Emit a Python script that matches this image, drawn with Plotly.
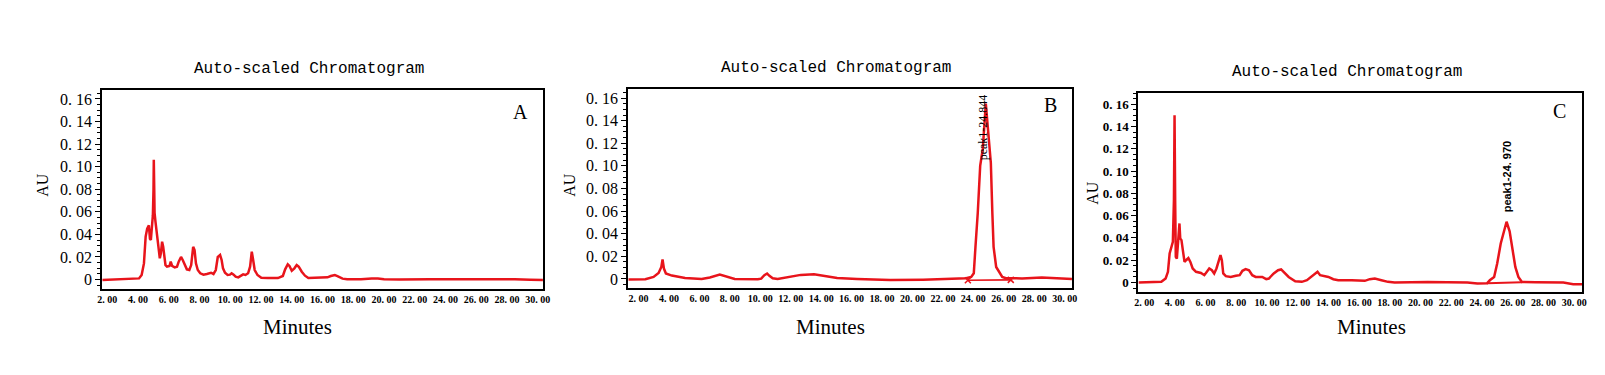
import plotly.graph_objects as go

# ---------------- data ----------------
A_time = [1.68, 2.78, 4.07, 4.24, 4.39, 4.50, 4.60, 4.71, 4.78, 4.84, 4.90, 4.97, 5.01, 5.03, 5.06,
          5.08, 5.14, 5.21, 5.27, 5.36, 5.42, 5.49, 5.57, 5.64, 5.70, 5.79, 5.89, 6.05, 6.13, 6.22,
          6.39, 6.54, 6.65, 6.80, 6.91, 7.03, 7.18, 7.34, 7.46, 7.59, 7.68, 7.77, 7.89, 8.05, 8.26,
          8.48, 8.75, 8.91, 9.06, 9.19, 9.34, 9.44, 9.53, 9.66, 9.83, 9.98, 10.09, 10.22, 10.35, 10.52,
          10.69, 10.84, 10.99, 11.16, 11.29, 11.40, 11.49, 11.59, 11.77, 12.02, 12.45, 13.10, 13.42, 13.57, 13.74,
          13.85, 14.00, 14.17, 14.32, 14.45, 14.65, 14.86, 15.08, 15.68, 16.32, 16.54, 16.80, 16.97, 17.30, 17.60,
          18.50, 19.20, 19.60, 20.00, 21.00, 23.00, 25.00, 27.00, 28.50, 29.50, 30.33]
A_au = [-0.0004, 0.0002, 0.001, 0.004, 0.0143, 0.038, 0.045, 0.048, 0.036, 0.035, 0.044, 0.057, 0.079, 0.106, 0.079,
        0.059, 0.051, 0.044, 0.0335, 0.026, 0.0188, 0.0232, 0.0335, 0.029, 0.020, 0.0128, 0.0114, 0.012, 0.0158, 0.012,
        0.0108, 0.0114, 0.0158, 0.020, 0.0173, 0.0128, 0.009, 0.0084, 0.0128, 0.029, 0.026, 0.0143, 0.0084, 0.0055, 0.0043,
        0.0049, 0.006, 0.0049, 0.0084, 0.020, 0.0217, 0.0173, 0.0099, 0.006, 0.004, 0.0043, 0.0055, 0.0043, 0.0025, 0.0019,
        0.0037, 0.0046, 0.004, 0.0055, 0.0114, 0.0247, 0.0173, 0.0084, 0.004, 0.0016, 0.0013, 0.0013, 0.0031, 0.009, 0.0135,
        0.012, 0.0078, 0.0099, 0.0128, 0.0114, 0.0069, 0.0034, 0.0013, 0.0013, 0.0019, 0.0031, 0.004, 0.0031, 0.0008, 0.0003,
        0.0002, 0.0008, 0.001, 0.0003, 0.0, 0.0002, 0.0003, 0.0004, 0.0002, -0.0003, -0.0005]

B_time = [1.33, 2.45, 2.99, 3.32, 3.50, 3.58, 3.67, 3.80, 4.19, 5.06, 6.15, 6.69, 7.34, 7.67, 8.32,
          9.84, 10.06, 10.27, 10.45, 10.60, 10.82, 11.14, 11.80, 12.66, 13.53, 14.19, 15.05, 16.36, 18.53, 20.70,
          22.44, 23.53, 23.86, 24.03, 24.14, 24.29, 24.45, 24.62, 24.82, 25.00, 25.15, 25.25, 25.33, 25.50, 25.90,
          26.14, 27.20, 28.50, 29.40, 30.48]
B_au = [-0.0005, -0.0002, 0.0018, 0.0053, 0.0106, 0.0172, 0.0092, 0.0048, 0.003, 0.0009, 0.0, 0.0013, 0.0039, 0.0028, 0.0,
        -0.0003, 0.0003, 0.0033, 0.0048, 0.0028, 0.0006, 0.0, 0.0018, 0.0036, 0.0042, 0.0028, 0.0009, 0.0, -0.0009, -0.0006,
        0.0003, 0.0006, 0.0018, 0.005, 0.0284, 0.0583, 0.100, 0.115, 0.155, 0.128, 0.1026, 0.058, 0.0284, 0.0106, 0.0018,
        0.0006, 0.0005, 0.0013, 0.0008, 0.0]
B_base_time = [23.64, 26.46]
B_base_au = [-0.0012, -0.0008]

C_time = [1.63, 3.12, 3.40, 3.55, 3.66, 3.76, 3.87, 3.94, 3.98, 4.02, 4.06, 4.13, 4.19, 4.26, 4.30,
          4.35, 4.43, 4.52, 4.63, 4.73, 4.88, 5.01, 5.16, 5.38, 5.70, 5.92, 6.07, 6.24, 6.41, 6.56,
          6.71, 6.89, 6.97, 7.06, 7.15, 7.32, 7.64, 7.97, 8.22, 8.40, 8.61, 8.83, 9.04, 9.26, 9.69,
          9.95, 10.12, 10.44, 10.72, 10.92, 11.09, 11.41, 11.84, 12.27, 12.60, 12.92, 13.14, 13.29, 13.46, 13.78,
          14.00, 14.32, 14.64, 15.51, 15.94, 16.37, 16.69, 17.02, 17.45, 17.88, 18.31, 20.46, 23.05, 23.70, 24.34,
          24.51, 24.79, 24.99, 25.22, 25.40, 25.60, 25.80, 25.98, 26.17, 26.37, 26.60, 27.50, 29.30, 29.94, 30.52]
C_au = [0.0, 0.0006, 0.0036, 0.0096, 0.026, 0.032, 0.0365, 0.074, 0.150, 0.074, 0.023, 0.0215, 0.035, 0.044, 0.053,
        0.0396, 0.038, 0.029, 0.0185, 0.020, 0.022, 0.0185, 0.0126, 0.0096, 0.0086, 0.0066, 0.0096, 0.0126, 0.011, 0.0081,
        0.0126, 0.020, 0.0246, 0.020, 0.0081, 0.0057, 0.005, 0.006, 0.0066, 0.0105, 0.012, 0.011, 0.0066, 0.005, 0.005,
        0.003, 0.0036, 0.0081, 0.011, 0.0117, 0.0096, 0.005, 0.0012, 0.0006, 0.0021, 0.0057, 0.0086, 0.0096, 0.0066, 0.006,
        0.005, 0.003, 0.0021, 0.0021, 0.0015, 0.0015, 0.003, 0.0036, 0.0021, 0.0006, 0.0, 0.0005, 0.0, -0.0009, -0.0006,
        0.002, 0.005, 0.017, 0.035, 0.045, 0.0545, 0.046, 0.029, 0.014, 0.005, 0.0005, 0.0003, 0.0, -0.0015, -0.0015]
C_base_time = [24.34, 26.60]
C_base_au = [-0.0006, 0.0003]

x_tickvals = [2, 4, 6, 8, 10, 12, 14, 16, 18, 20, 22, 24, 26, 28, 30]
x_ticktext = ["2. 00", "4. 00", "6. 00", "8. 00", "10. 00", "12. 00", "14. 00", "16. 00",
              "18. 00", "20. 00", "22. 00", "24. 00", "26. 00", "28. 00", "30. 00"]
y_tickvals = [0, 0.02, 0.04, 0.06, 0.08, 0.10, 0.12, 0.14, 0.16]
y_ticktext = ["0", "0. 02", "0. 04", "0. 06", "0. 08", "0. 10", "0. 12", "0. 14", "0. 16"]

panel_titles = ["Auto-scaled Chromatogram"] * 3
panel_letters = ["A", "B", "C"]
peak_labels = ["peak1-24.844", "peak1-24. 970"]

# ---------------- figure ----------------
W, H = 1605, 375
RED = "#e8141b"


def px(x):
    return x / W


def py(y):
    return 1 - y / H


fig = go.Figure()
line = dict(color=RED, width=2.5)
fig.add_trace(go.Scatter(x=A_time, y=A_au, mode="lines", line=line, xaxis="x", yaxis="y"))
fig.add_trace(go.Scatter(x=B_time, y=B_au, mode="lines", line=line, xaxis="x2", yaxis="y2"))
fig.add_trace(go.Scatter(x=B_base_time, y=B_base_au, mode="lines+markers", line=dict(color=RED, width=1.6),
                         marker=dict(symbol="x-thin", size=6, line=dict(color=RED, width=1.5)),
                         xaxis="x2", yaxis="y2"))
fig.add_trace(go.Scatter(x=C_time, y=C_au, mode="lines", line=line, xaxis="x3", yaxis="y3"))
fig.add_trace(go.Scatter(x=C_base_time, y=C_base_au, mode="lines", line=dict(color=RED, width=2),
                         xaxis="x3", yaxis="y3"))

panels = [
    # x domain px, y domain px (top, bottom), x range, y range
    dict(xd=(98, 542), yd=(90, 289), xr=(1.68, 30.33), yr=(-0.0084, 0.1679)),
    dict(xd=(628, 1075), yd=(89, 288), xr=(1.33, 30.48), yr=(-0.0080, 0.1680)),
    dict(xd=(1142, 1589), yd=(93, 292), xr=(1.63, 30.52), yr=(-0.0085, 0.1700)),
]

serif = "Liberation Serif, Times New Roman, serif"
layout = {}
for i, p in enumerate(panels):
    sfx = "" if i == 0 else str(i + 1)
    ytickfont = dict(family=serif, size=16, color="black")
    if i == 2:
        ytickfont = dict(family=serif, size=13, color="black", weight="bold")
    layout["xaxis" + sfx] = dict(
        domain=[px(p["xd"][0]), px(p["xd"][1])], range=list(p["xr"]), anchor="y" + sfx,
        showline=True, linecolor="black", linewidth=2, mirror=True, showgrid=False, zeroline=False,
        ticks="", tickmode="array", tickvals=x_tickvals, ticktext=x_ticktext, tickangle=0,
        tickfont=dict(family=serif, size=10, color="black", weight="bold"),
    )
    layout["yaxis" + sfx] = dict(
        domain=[py(p["yd"][1]), py(p["yd"][0])], range=list(p["yr"]), anchor="x" + sfx,
        showline=True, linecolor="black", linewidth=2, mirror=True, showgrid=False, zeroline=False,
        ticks="outside", ticklen=5, tickwidth=1, tickcolor="black",
        tickmode="array", tickvals=y_tickvals, ticktext=y_ticktext, tickfont=ytickfont,
        minor=dict(ticks="outside", ticklen=3, tickwidth=1, tickcolor="black", tick0=0, dtick=0.005, showgrid=False),
    )

annotations = []
title_pos = [(306, 69), (837, 68), (1352, 72)]
minutes_pos = [(295, 327), (832, 327), (1377, 327)]
au_pos = [(37, 185), (568, 185), (1095, 193)]
letter_pos = [(519, 112), (1053, 105), (1566, 111)]
for i in range(3):
    annotations.append(dict(x=px(title_pos[i][0]), y=py(title_pos[i][1]), xref="paper", yref="paper",
                            text=panel_titles[i], showarrow=False, xanchor="center", yanchor="middle",
                            font=dict(family="Liberation Mono, DejaVu Sans Mono, monospace", size=16, color="black")))
    annotations.append(dict(x=px(minutes_pos[i][0]), y=py(minutes_pos[i][1]), xref="paper", yref="paper",
                            text="Minutes", showarrow=False, xanchor="center", yanchor="middle",
                            font=dict(family=serif, size=21, color="black")))
    annotations.append(dict(x=px(au_pos[i][0]), y=py(au_pos[i][1]), xref="paper", yref="paper",
                            text="AU", showarrow=False, xanchor="center", yanchor="middle", textangle=-90,
                            font=dict(family=serif, size=16, color="black")))
    annotations.append(dict(x=px(letter_pos[i][0]), y=py(letter_pos[i][1]), xref="paper", yref="paper",
                            text=panel_letters[i], showarrow=False, xanchor="center", yanchor="middle",
                            font=dict(family=serif, size=20, color="black")))

annotations.append(dict(x=24.69, y=0.134, xref="x2", yref="y2", text=peak_labels[0], showarrow=False,
                        textangle=-90, xanchor="center", yanchor="middle",
                        font=dict(family=serif, size=12, color="black")))
annotations.append(dict(x=25.61, y=0.095, xref="x3", yref="y3", text=peak_labels[1], showarrow=False,
                        textangle=-90, xanchor="center", yanchor="middle",
                        font=dict(family="Liberation Sans, Arial, sans-serif", size=11, color="black", weight="bold")))

fig.update_layout(
    width=W, height=H, autosize=False,
    margin=dict(l=0, r=0, t=0, b=0),
    paper_bgcolor="white", plot_bgcolor="white",
    showlegend=False,
    annotations=annotations,
    **layout,
)

fig.write_html(
    "out.html",
    config={"displayModeBar": False},
    post_script="document.body.style.margin='0';document.body.style.overflow='hidden';",
)
